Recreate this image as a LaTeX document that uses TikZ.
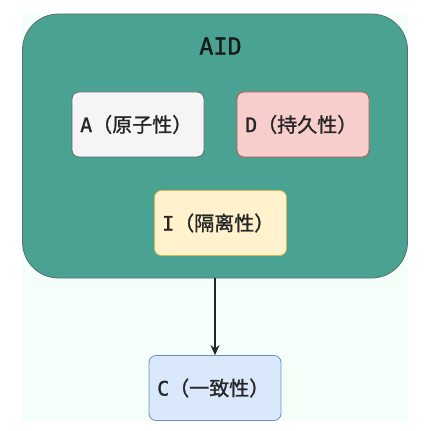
\documentclass[tikz,border=0pt]{standalone}
\usepackage{fontspec}
\usetikzlibrary{arrows.meta}
\newfontfamily\cjk[FakeBold=1.2]{Noto Sans CJK SC}
\newfontfamily\mono[FakeBold=1.2]{DejaVu Sans Mono}
\definecolor{bgmint}{HTML}{F5FFF9}
\definecolor{teal}{HTML}{4AA392}
\definecolor{tealline}{HTML}{5E6E69}
\definecolor{afill}{HTML}{F5F5F5}
\definecolor{aline}{HTML}{666666}
\definecolor{dfill}{HTML}{F8CECC}
\definecolor{dline}{HTML}{B85450}
\definecolor{ifill}{HTML}{FFF2CC}
\definecolor{iline}{HTML}{D6B656}
\definecolor{cfill}{HTML}{DAE8FC}
\definecolor{cline}{HTML}{6C8EBF}
\tikzset{
  box/.style={rounded corners=7pt, line width=0.8pt, minimum width=132pt, minimum height=65pt, inner sep=0pt},
  lbl/.style={anchor=west, text=black!85, inner sep=0pt, font=\fontsize{20}{20}\selectfont},
}
\begin{document}
\begin{tikzpicture}[x=1pt,y=-1pt]
\useasboundingbox (0,0) rectangle (443,430);
\fill[bgmint] (22,14) rectangle (408,421);
\node[draw=tealline, fill=teal, rounded corners=36pt, line width=0.8pt, minimum width=385pt, minimum height=264pt, inner sep=0pt] (aid) at (215,146) {};
\node[font=\mono\fontsize{23.5}{23.5}\selectfont, text=black!90, inner sep=0pt] (aidt) at (220.5,46) {AID};
\node[box, draw=aline, fill=afill] (a) at (138,124.5) {};
\node[box, draw=dline, fill=dfill] (d) at (303,124.5) {};
\node[box, draw=iline, fill=ifill] (i) at (220.5,223) {};
\node[box, draw=cline, fill=cfill] (c) at (215,388) {};
\node[lbl] (at) at (80,124.5) {\mono A\cjk（原子性）};
\node[lbl] (dt) at (245,124.5) {\mono D\cjk（持久性）};
\node[lbl] (it) at (162,223) {\mono I\cjk（隔离性）};
\node[lbl] (ct) at (157,388) {\mono C\cjk（一致性）};
\draw[line width=1.3pt, draw=black!85, -{Stealth[length=10pt,width=9pt]}] (aid.south -| c.north) -- (c.north);
\end{tikzpicture}
\end{document}
